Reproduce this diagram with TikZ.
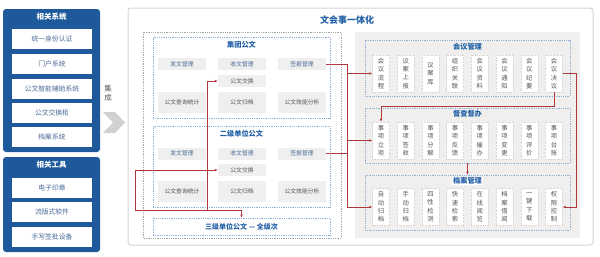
\documentclass[tikz,border=0pt]{standalone}
\usepackage{fontspec}
\setmainfont{Noto Sans CJK SC}
\usetikzlibrary{arrows.meta}
\definecolor{dblue}{HTML}{1E5A9B}
\definecolor{tblue}{HTML}{2461A8}
\definecolor{itxt}{HTML}{4A6B98}
\definecolor{gfill}{HTML}{EFEFEF}
\definecolor{gtxt}{HTML}{555555}
\definecolor{rline}{HTML}{B0383C}
\definecolor{dotb}{HTML}{8FB0D6}
\definecolor{panel}{HTML}{F0EFEE}
\definecolor{frame}{HTML}{D4D4D4}
\begin{document}
\begin{tikzpicture}[x=1pt,y=-1pt,
  panelbox/.style={fill=dblue, rounded corners=3pt, draw=none, inner sep=0},
  ptitle/.style={text=white, font=\fontsize{7.5}{8}\selectfont\bfseries, inner sep=0},
  sysitem/.style={fill=white, minimum width=80pt, minimum height=20pt, font=\fontsize{6.8}{7}\selectfont, text=itxt, inner sep=0},
  gitem/.style={fill=gfill, minimum width=48pt, minimum height=12pt, font=\fontsize{5.8}{6}\selectfont, text=gtxt, inner sep=0},
  gitemb/.style={gitem, text=itxt},
  gitemt/.style={gitem, minimum height=21pt},
  vitem/.style={fill=white, draw=black!15, dash pattern=on 0.6pt off 0.8pt, minimum width=17pt, minimum height=37pt, align=center, font=\fontsize{6.3}{8.3}\selectfont, text=gtxt, inner sep=0},
  bluebox/.style={draw=dotb, line width=0.6pt, dash pattern=on 0.7pt off 1.1pt, inner sep=0},
  btitle/.style={text=tblue, font=\fontsize{7.2}{8}\selectfont\bfseries, inner sep=0},
  redl/.style={draw=rline, line width=0.7pt},
  redarr/.style={redl, -{Latex[length=3pt,width=2.6pt]}}
]
\useasboundingbox (0,0) rectangle (600,257);

% left panels
\node[panelbox, minimum width=97pt, minimum height=143pt] (sys) at (51.5,80.5) {};
\node[ptitle] (systitle) at (51.5,17) {相关系统};
\node[sysitem] (s1) at (52,39) {统一身份认证};
\node[sysitem] (s2) at (52,63.5) {门户系统};
\node[sysitem] (s3) at (52,88.5) {公文智能辅助系统};
\node[sysitem] (s4) at (52,112.5) {公文交换柜};
\node[sysitem] (s5) at (52,137) {档案系统};

\node[panelbox, minimum width=97pt, minimum height=95pt] (tool) at (51.5,204.5) {};
\node[ptitle] (tooltitle) at (51.5,165) {相关工具};
\node[sysitem] (t1) at (52,187.5) {电子印章};
\node[sysitem] (t2) at (52,211.5) {流版式软件};
\node[sysitem] (t3) at (52,236.5) {手写签批设备};

% integrate arrow
\node[align=center, text=gtxt, font=\fontsize{7.5}{9}\selectfont, inner sep=0] (jc) at (108,93) {集\\成};
\fill[black!18] (103,112) -- (115,112) -- (125,122.5) -- (115,133) -- (103,133) -- (113,122.5) -- cycle;

% main frame
\draw[draw=frame, line width=1pt, fill=white, rounded corners=3pt] (128,8) rectangle (593,245);
\node[text=tblue, font=\fontsize{9}{10}\selectfont\bfseries, inner sep=0] (title) at (347,20) {文会事一体化};

% left dotted area
\draw[draw=black!35, line width=0.6pt, dash pattern=on 0.7pt off 1.1pt] (143,32) rectangle (341,238);

% 集团公文
\node[bluebox, minimum width=177pt, minimum height=81pt] (jt) at (241.5,77.5) {};
\node[btitle] (jttitle) at (241.5,45) {集团公文};
\node[gitemb] (fw1) at (182,64) {发文管理};
\node[gitemb] (sw1) at (242,64) {收文管理};
\node[gitemb] (qb1) at (302,64) {签报管理};
\node[gitem] (gj1) at (242,81) {公文交换};
\node[gitemt] (cx1) at (182,102.5) {公文查询统计};
\node[gitemt] (gd1) at (242,102.5) {公文归档};
\node[gitemt] (xn1) at (302,102.5) {公文效能分析};

% 二级单位公文
\node[bluebox, minimum width=177pt, minimum height=81pt] (ej) at (241.5,166.5) {};
\node[btitle] (ejtitle) at (241.5,134) {二级单位公文};
\node[gitemb] (fw2) at (182,153.5) {发文管理};
\node[gitemb] (sw2) at (242,153.5) {收文管理};
\node[gitemb] (qb2) at (302,153.5) {签报管理};
\node[gitem] (gj2) at (242,170) {公文交换};
\node[gitemt] (cx2) at (182,191.5) {公文查询统计};
\node[gitemt] (gd2) at (242,191.5) {公文归档};
\node[gitemt] (xn2) at (302,191.5) {公文效能分析};

% 三级
\node[bluebox, minimum width=177pt, minimum height=17pt, text=tblue, font=\fontsize{7}{8}\selectfont\bfseries] (sj) at (241.5,226.5) {三级单位公文 — 全级次};

% right panel
\fill[panel] (355,32) rectangle (580,238);

\node[bluebox, minimum width=205pt, minimum height=56pt] (hybox) at (467.5,68) {};
\node[btitle] (hytitle) at (467.5,47) {会议管理};
\node[vitem] (hy1) at (381,73.5) {会\\议\\流\\程};
\node[vitem] (hy2) at (405.7,73.5) {议\\案\\上\\报};
\node[vitem] (hy3) at (430.4,73.5) {议\\案\\库};
\node[vitem] (hy4) at (455.1,73.5) {组\\织\\关\\联};
\node[vitem] (hy5) at (479.8,73.5) {会\\议\\资\\料};
\node[vitem] (hy6) at (504.5,73.5) {会\\议\\通\\知};
\node[vitem] (hy7) at (529.2,73.5) {会\\议\\纪\\要};
\node[vitem] (hy8) at (553.9,73.5) {会\\议\\决\\议};

\node[bluebox, minimum width=205pt, minimum height=55pt] (dcbox) at (467.5,135.5) {};
\node[btitle] (dctitle) at (467.5,114) {督查督办};
\node[vitem] (dc1) at (381,140.5) {事\\项\\立\\项};
\node[vitem] (dc2) at (405.7,140.5) {事\\项\\签\\收};
\node[vitem] (dc3) at (430.4,140.5) {事\\项\\分\\解};
\node[vitem] (dc4) at (455.1,140.5) {事\\项\\反\\馈};
\node[vitem] (dc5) at (479.8,140.5) {事\\项\\催\\办};
\node[vitem] (dc6) at (504.5,140.5) {事\\项\\变\\更};
\node[vitem] (dc7) at (529.2,140.5) {事\\项\\评\\价};
\node[vitem] (dc8) at (553.9,140.5) {事\\项\\台\\账};

\node[bluebox, minimum width=205pt, minimum height=55pt] (dabox) at (467.5,202.5) {};
\node[btitle, fill=white, inner sep=1pt] (datitle) at (467.5,181) {档案管理};
\node[vitem] (da1) at (381,207) {自\\动\\归\\档};
\node[vitem] (da2) at (405.7,207) {手\\动\\归\\档};
\node[vitem] (da3) at (430.4,207) {四\\性\\检\\测};
\node[vitem] (da4) at (455.1,207) {快\\速\\检\\索};
\node[vitem] (da5) at (479.8,207) {在\\线\\阅\\览};
\node[vitem] (da6) at (504.5,207) {档\\案\\借\\阅};
\node[vitem] (da7) at (529.2,207) {一\\键\\下\\载};
\node[vitem] (da8) at (553.9,207) {权\\限\\控\\制};

% red connectors, left
\coordinate (l1) at (207,81);
\coordinate (l2) at (207,210);
\coordinate (l3) at (135,210);
\coordinate (l4) at (135,170);
\coordinate (l5) at (241.5,210);
\draw[redarr] (l2) -- (l1) -- (gj1.west);
\draw[redarr] (l3) -- (l4) -- (gj2.west);
\draw[redarr] (l3) -- (l5) -- (sj.north);

% red connectors, trunk
\coordinate (k1) at (347,64);
\coordinate (k2) at (347,207);
\draw[redl] (qb1.east) -- (k1) -- (k2);
\draw[redl] (qb2.east) -- (qb2.east -| k1);
\draw[redarr] (hy1.west -| k1) -- (hy1.west);
\draw[redarr] (dc1.west -| k1) -- (dc1.west);
\draw[redarr] (k2) -- (da1.west);

% red connectors, right
\coordinate (rx) at (576,0);
\draw[redarr] (hy8.south) -- ++(0,14) -| (dc1.north);
\draw[redarr] (hy8.east) -- (hy8.east -| rx) |- (da8.east);
\draw[redarr] (dcbox.south) -- (dabox.north);
\end{tikzpicture}
\end{document}
